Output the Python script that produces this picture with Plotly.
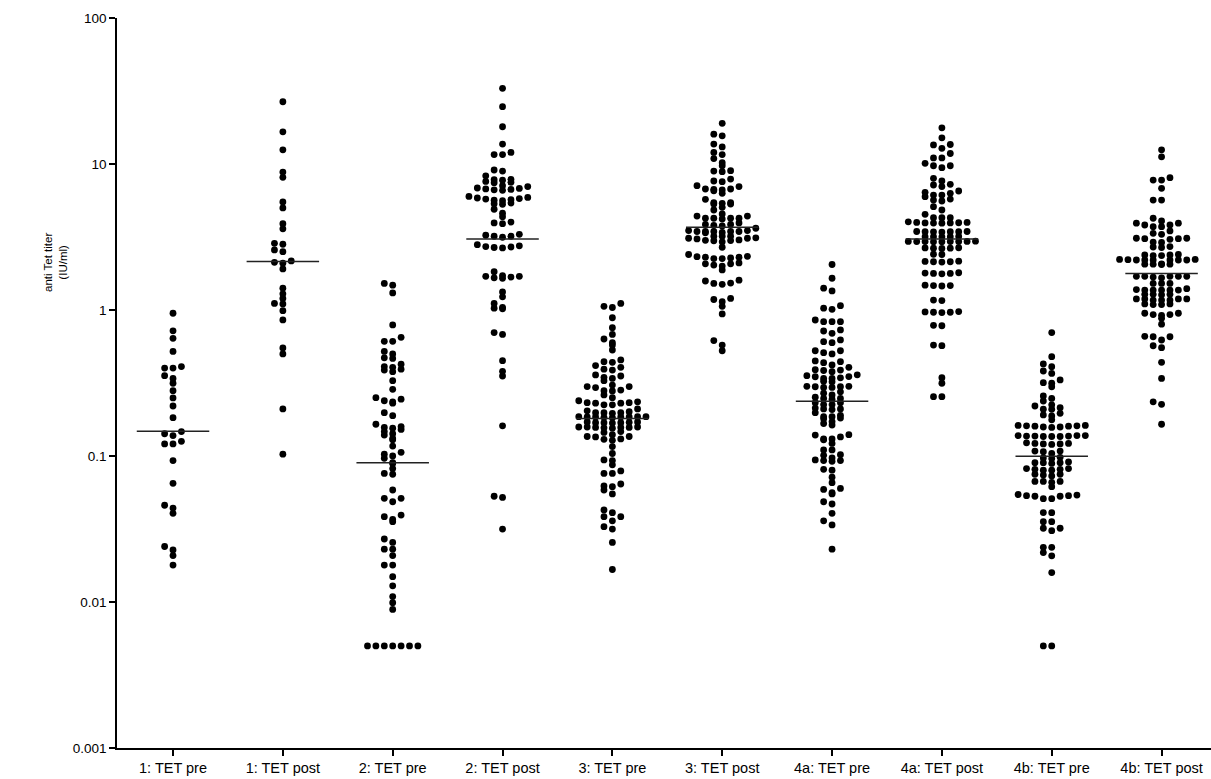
import numpy as np
import plotly.graph_objects as go

# ---- data: anti-tetanus titers (IU/ml) per group ----
categories = ["1: TET pre", "1: TET post", "2: TET pre", "2: TET post", "3: TET pre",
              "3: TET post", "4a: TET pre", "4a: TET post", "4b: TET pre", "4b: TET post"]

tet1_pre = [0.95, 0.72, 0.64, 0.52, 0.41, 0.40, 0.40, 0.355, 0.34, 0.315, 0.28, 0.25, 0.22,
            0.183, 0.147, 0.142, 0.138, 0.126, 0.121, 0.121, 0.093, 0.065, 0.046, 0.044,
            0.0405, 0.024, 0.0227, 0.0208, 0.0179]

tet1_post = [26.7, 16.6, 12.5, 8.8, 8.1, 5.5, 5.0, 3.9, 3.6, 2.86, 2.82, 2.58, 2.51, 2.17,
             2.12, 2.09, 1.91, 1.41, 1.29, 1.20, 1.11, 1.10, 0.99, 0.855, 0.55, 0.50, 0.21,
             0.103]

tet2_pre = [1.52, 1.48, 1.31, 0.79, 0.65, 0.61, 0.61, 0.52, 0.47, 0.466, 0.50, 0.41, 0.393,
            0.378, 0.388, 0.405, 0.425, 0.328, 0.286, 0.245, 0.235, 0.23, 0.239, 0.251,
            0.189, 0.198, 0.165, 0.157, 0.152, 0.147, 0.155, 0.159, 0.139, 0.142, 0.129,
            0.132, 0.117, 0.106, 0.103, 0.100, 0.0965, 0.089, 0.090, 0.082, 0.076, 0.075,
            0.0585, 0.0513, 0.0486, 0.0513, 0.0384, 0.0355, 0.0368, 0.0394, 0.027, 0.0256,
            0.023, 0.023, 0.0208, 0.0179, 0.0179, 0.0149, 0.0129, 0.0109, 0.0099, 0.0089,
            0.005, 0.005, 0.005, 0.005, 0.005, 0.005, 0.005]

tet2_post = [33.0, 24.7, 18.0, 13.7, 12.0, 11.6, 11.6, 9.1, 8.95, 8.3,
             7.85, 7.8, 7.75, 7.6, 7.5, 7.45,
             7.1, 7.0, 6.85, 6.8, 6.75, 6.7, 6.65, 6.6,
             6.0, 5.9, 5.85, 5.8, 5.75, 5.7, 5.65, 5.6,
             5.4, 5.35, 5.3, 4.9, 4.6, 4.36, 4.0, 3.95, 3.9,
             3.3, 3.25, 3.2, 3.2, 3.15,
             2.75, 2.72, 2.7, 2.68, 2.66, 2.8,
             1.83, 1.72, 1.7, 1.68, 1.66, 1.65, 1.7,
             1.33, 1.23, 1.11, 1.04, 1.02, 1.03, 0.70, 0.68,
             0.45, 0.38, 0.353, 0.161, 0.053, 0.052, 0.0316]

tet3_pre = [1.11, 1.04, 1.06, 0.885, 0.757, 0.68, 0.633, 0.597, 0.575, 0.532,
            0.455, 0.438, 0.416, 0.443, 0.393, 0.405, 0.388,
            0.359, 0.34, 0.346, 0.328, 0.353,
            0.306, 0.299, 0.294, 0.28, 0.279, 0.283, 0.299, 0.262,
            0.239, 0.232, 0.23, 0.224, 0.224, 0.23, 0.232, 0.235, 0.251,
            0.21, 0.198, 0.196, 0.198, 0.198, 0.201, 0.204,
            0.186, 0.185, 0.184, 0.186, 0.183, 0.185, 0.185, 0.186, 0.185,
            0.171, 0.169, 0.169, 0.168, 0.169, 0.17, 0.171,
            0.158, 0.157, 0.156, 0.158, 0.157, 0.157, 0.158, 0.155,
            0.145, 0.147,
            0.136, 0.135, 0.13, 0.128, 0.131, 0.136, 0.14,
            0.116, 0.104, 0.093, 0.087, 0.094, 0.079, 0.076, 0.076,
            0.0643, 0.0616, 0.0623, 0.055, 0.0585,
            0.0427, 0.0384, 0.036, 0.0384, 0.0409,
            0.0316, 0.0328, 0.0256, 0.0167]

tet3_post = [19.0, 16.0, 15.6, 13.7, 13.1, 12.0, 11.6, 10.9, 10.2, 9.73, 8.86, 8.95, 9.0,
             7.89, 7.65, 7.57,
             7.0, 6.71, 6.56, 6.64, 6.74, 6.74, 7.1,
             6.3, 5.73,
             5.43, 5.32, 5.05, 5.32, 5.38, 5.43, 4.84,
             4.4, 4.25, 4.25, 4.2, 4.25, 4.25, 4.4, 4.55,
             3.95, 3.85, 3.8, 3.85, 3.76, 3.63,
             3.45, 3.38, 3.45, 3.5, 3.5, 3.45, 3.45, 3.45, 3.4,
             3.2, 3.1, 3.1, 3.12, 3.2, 3.2,
             3.0, 2.98, 2.93, 2.99, 3.02, 3.07, 2.69,
             2.33, 2.3, 2.27, 2.25, 2.25, 2.3, 2.32, 2.4,
             2.07, 2.03, 2.0, 2.07, 2.1, 1.88,
             1.6, 1.53, 1.5, 1.52, 1.58,
             1.18, 1.14, 1.2, 1.06, 0.94, 0.617, 0.575, 0.526]

tet4a_pre = [2.05, 1.65, 1.41, 1.35, 1.07, 1.03, 1.01,
             0.854, 0.832, 0.832, 0.832, 0.73, 0.718, 0.692, 0.624, 0.607, 0.597,
             0.526, 0.526, 0.51, 0.50, 0.448, 0.443, 0.436, 0.42,
             0.39, 0.385, 0.405, 0.378, 0.388,
             0.36, 0.355, 0.349, 0.34, 0.34, 0.343, 0.35,
             0.325, 0.322,
             0.3, 0.295, 0.298, 0.298, 0.295, 0.3,
             0.269, 0.262, 0.275, 0.248, 0.245, 0.248, 0.253,
             0.232, 0.225, 0.225, 0.232, 0.213, 0.21, 0.208, 0.21,
             0.198, 0.19, 0.186, 0.186, 0.182, 0.18, 0.172, 0.163, 0.167,
             0.14, 0.135, 0.131, 0.129, 0.131, 0.139, 0.122, 0.11, 0.11,
             0.101, 0.094, 0.093, 0.092, 0.093, 0.097, 0.102,
             0.08, 0.081, 0.0715, 0.0657, 0.059, 0.055, 0.056, 0.06,
             0.0486, 0.0469, 0.0405, 0.036, 0.0337, 0.023]

tet4a_post = [17.7, 15.1, 13.5, 12.8, 13.6, 11.8, 11.0, 11.0, 10.1, 9.73, 9.44, 9.73,
              7.98, 7.18, 7.0, 7.26, 7.65, 6.53, 6.3, 6.13, 5.97, 6.13, 6.4,
              5.66, 5.75, 5.58, 5.1, 4.84, 4.52, 4.29, 4.29, 4.29,
              3.98, 3.95, 3.94, 3.93, 3.95, 3.96, 3.98, 4.02,
              3.45, 3.44, 3.43, 3.44, 3.45, 3.44, 3.42,
              3.18, 3.17, 3.18, 3.19, 3.18,
              2.94, 2.95, 2.93, 2.94, 2.96, 2.94, 2.95, 2.93, 2.94,
              2.65, 2.66, 2.64, 2.65, 2.67, 2.41, 2.4,
              2.14, 2.15, 2.13, 2.14, 2.16, 1.78, 1.77, 1.79, 1.78, 1.8,
              1.47, 1.46, 1.48, 1.47, 1.17, 1.16,
              0.965, 0.96, 0.97, 0.965, 0.975, 0.78, 0.785, 0.57, 0.575,
              0.344, 0.315, 0.255, 0.255]

tet4b_pre = [0.70, 0.479, 0.427, 0.409, 0.382, 0.368, 0.332, 0.315, 0.298, 0.318,
             0.258, 0.238, 0.248, 0.22, 0.209, 0.209, 0.214, 0.224,
             0.191, 0.188, 0.196, 0.177,
             0.162, 0.161, 0.16, 0.158, 0.158, 0.16, 0.161, 0.162, 0.157,
             0.138, 0.137, 0.136, 0.136, 0.137, 0.136, 0.137, 0.138, 0.138,
             0.122, 0.121, 0.12, 0.121, 0.122, 0.123,
             0.108, 0.104, 0.107, 0.108, 0.098, 0.096, 0.097,
             0.09, 0.09, 0.091, 0.09, 0.089,
             0.082, 0.081, 0.081, 0.082, 0.08, 0.08,
             0.075, 0.075, 0.073, 0.074, 0.067, 0.066, 0.067, 0.067, 0.0616,
             0.054, 0.0535, 0.053, 0.051, 0.051, 0.053, 0.0535, 0.0545,
             0.0409, 0.041, 0.0355, 0.0355, 0.032, 0.0308, 0.032,
             0.0237, 0.0207, 0.0218, 0.0237, 0.0159, 0.005, 0.005]

tet4b_post = [12.5, 11.2, 8.06, 7.76, 7.76, 6.81, 5.66, 5.66,
              4.25, 4.07, 3.93, 3.93, 3.82, 3.82, 3.72, 3.72,
              3.48, 3.3, 3.35, 3.08, 3.1, 3.05, 3.08, 3.1, 2.92, 2.9,
              2.7, 2.68, 2.72, 2.38, 2.36, 2.4, 2.38, 2.36,
              2.22, 2.2, 2.2, 2.22, 2.2, 2.2, 2.21, 2.2, 2.2,
              2.06, 2.06, 2.05, 2.07, 2.06,
              1.7, 1.68, 1.7, 1.7, 1.7, 1.7, 1.66, 1.52, 1.52, 1.52,
              1.4, 1.37, 1.37, 1.37, 1.37, 1.37, 1.38,
              1.28, 1.28, 1.27, 1.28,
              1.19, 1.19, 1.17, 1.17, 1.17, 1.19, 1.19,
              1.1, 1.09, 1.09, 1.1,
              0.95, 0.93, 0.92, 0.93, 0.95, 0.80, 0.877,
              0.656, 0.656, 0.66, 0.623, 0.552, 0.569,
              0.438, 0.34, 0.235, 0.226, 0.165]

groups = [tet1_pre, tet1_post, tet2_pre, tet2_post, tet3_pre,
          tet3_post, tet4a_pre, tet4a_post, tet4b_pre, tet4b_post]

# ---- plot geometry (pixels) used to lay out the dot swarm ----
FIG_W, FIG_H = 1211, 779
MARGIN = dict(l=117, r=0, t=18, b=31)
Y_LOG_RANGE = (-3, 2)
X_RANGE = (-0.51, 9.45)
DOT_STEP_PX = 8.4   # horizontal spacing between neighbouring dots
ROW_PX = 4.5        # dots closer than this vertically share one row
HALF_BAR = 0.33     # half width of the geometric-mean bar, in category units

plot_w = FIG_W - MARGIN["l"] - MARGIN["r"]
plot_h = FIG_H - MARGIN["t"] - MARGIN["b"]
px_per_decade = plot_h / (Y_LOG_RANGE[1] - Y_LOG_RANGE[0])
px_per_unit = plot_w / (X_RANGE[1] - X_RANGE[0])


def swarm_x(center, values):
    """Spread dots of similar value side by side (column scatter layout)."""
    v = np.asarray(values, float)
    ypx = np.log10(v) * px_per_decade
    order = list(np.argsort(-ypx, kind="stable"))
    slots = [0]
    for n in range(1, 40):
        slots += [-n, n]
    xs = np.empty_like(v)
    i = 0
    while i < len(order):
        top = ypx[order[i]]
        j = i
        while j < len(order) and top - ypx[order[j]] <= ROW_PX:
            j += 1
        row = sorted(order[i:j], key=lambda k: ypx[k])
        for slot, k in zip(slots, row):
            xs[k] = center + slot * DOT_STEP_PX / px_per_unit
        i = j
    return xs


fig = go.Figure()

for i, vals in enumerate(groups):
    fig.add_trace(go.Scatter(
        x=swarm_x(i, vals), y=vals, mode="markers",
        marker=dict(size=6.8, color="black", line=dict(width=0)),
        hoverinfo="y", showlegend=False,
    ))

for i, vals in enumerate(groups):
    gm = 10 ** np.mean(np.log10(vals))
    fig.add_trace(go.Scatter(
        x=[i - HALF_BAR, i + HALF_BAR], y=[gm, gm], mode="lines",
        line=dict(color="#222222", width=1.5),
        hoverinfo="skip", showlegend=False,
    ))

tick_vals = [0.001, 0.01, 0.1, 1, 10, 100]
tick_text = ["0.001", "0.01", "0.1", "1", "10", "100"]

axis_common = dict(showline=True, linecolor="black", linewidth=1.6, ticks="outside",
                   ticklen=6, tickwidth=1.5, tickcolor="black", showgrid=False,
                   zeroline=False, mirror=False)

fig.update_xaxes(range=list(X_RANGE), tickmode="array", tickvals=list(range(len(categories))),
                 ticktext=categories, tickfont=dict(size=14.5), **axis_common)
fig.update_yaxes(type="log", range=list(Y_LOG_RANGE), tickmode="array", tickvals=tick_vals,
                 ticktext=tick_text, tickfont=dict(size=13.5), **axis_common)

fig.add_annotation(
    text="anti Tet titer<br>(IU/ml)", textangle=-90, showarrow=False,
    xref="paper", yref="paper",
    x=(55 - MARGIN["l"]) / plot_w, y=1 - (263 - MARGIN["t"]) / plot_h,
    xanchor="center", yanchor="middle",
    font=dict(size=11.5, color="black"),
)

fig.update_layout(
    width=FIG_W, height=FIG_H, margin=MARGIN,
    plot_bgcolor="white", paper_bgcolor="white",
    font=dict(family="Liberation Sans, Arial, sans-serif", size=12, color="black"),
    showlegend=False,
)

fig.write_html("out.html")
